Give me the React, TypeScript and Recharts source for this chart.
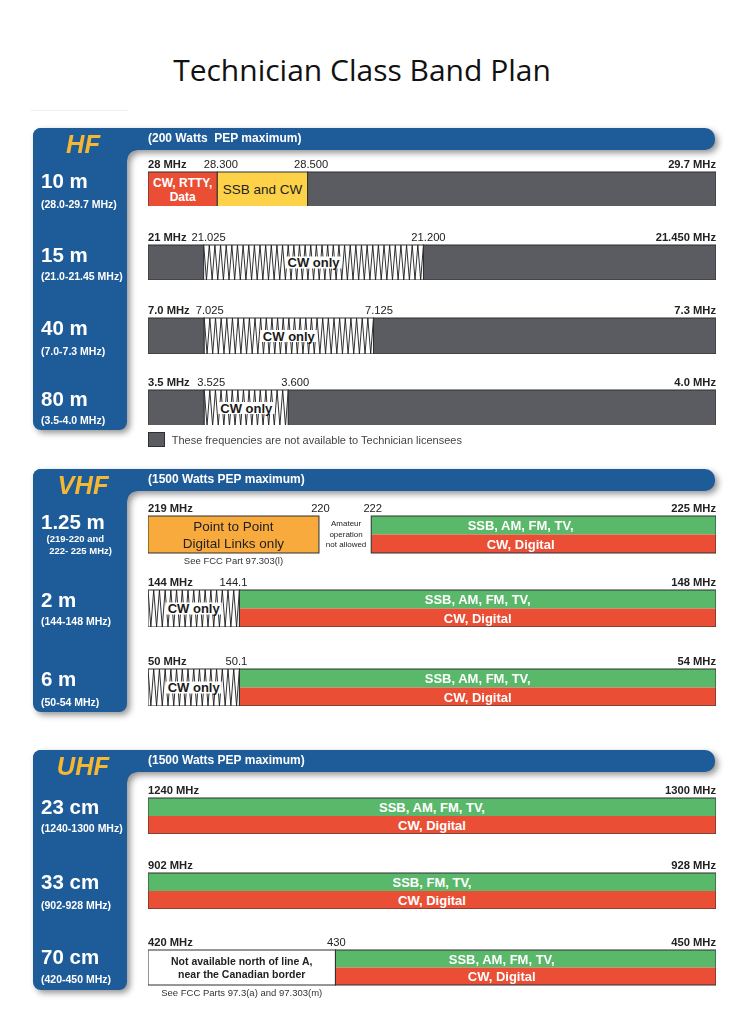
import React from 'react';
import { BarChart, Bar, XAxis, YAxis } from 'recharts';

// ---------------- data ----------------
const sectionNames = ['HF', 'VHF', 'UHF'];
const sectionPower = ['(200 Watts  PEP maximum)', '(1500 Watts PEP maximum)', '(1500 Watts PEP maximum)'];

const bandNames = ['10 m', '15 m', '40 m', '80 m', '1.25 m', '2 m', '6 m', '23 cm', '33 cm', '70 cm'];
const bandRanges = [
  ['(28.0-29.7 MHz)'],
  ['(21.0-21.45 MHz)'],
  ['(7.0-7.3 MHz)'],
  ['(3.5-4.0 MHz)'],
  ['(219-220 and', ' 222- 225 MHz)'],
  ['(144-148 MHz)'],
  ['(50-54 MHz)'],
  ['(1240-1300 MHz)'],
  ['(902-928 MHz)'],
  ['(420-450 MHz)'],
];

// segment spans are the share of each band bar (percent of bar length) as pictured
const b10Spans = [12.2, 15.9, 71.9];
const b10Kinds = ['red', 'yellow', 'grey'];
const b10Texts = [['CW, RTTY,', 'Data'], ['SSB and CW'], []];
const b10Ticks = ['28 MHz', '28.300', '28.500', '29.7 MHz'];

const b15Spans = [9.8, 38.7, 51.5];
const b15Kinds = ['grey', 'cw', 'grey'];
const b15Texts = [[], ['CW only'], []];
const b15Ticks = ['21 MHz', '21.025', '21.200', '21.450 MHz'];

const b40Spans = [9.9, 29.8, 60.3];
const b40Kinds = ['grey', 'cw', 'grey'];
const b40Texts = [[], ['CW only'], []];
const b40Ticks = ['7.0 MHz', '7.025', '7.125', '7.3 MHz'];

const b80Spans = [9.9, 14.8, 75.3];
const b80Kinds = ['grey', 'cw', 'grey'];
const b80Texts = [[], ['CW only'], []];
const b80Ticks = ['3.5 MHz', '3.525', '3.600', '4.0 MHz'];

const b125Spans = [30.1, 9.2, 60.7];
const b125Kinds = ['orange', 'gap', 'split'];
const b125Texts = [['Point to Point', 'Digital Links only'], ['Amateur', 'operation', 'not allowed'], ['SSB, AM, FM, TV,', 'CW, Digital']];
const b125Ticks = ['219 MHz', '220', '222', '225 MHz'];
const b125Notes = ['See FCC Part 97.303(l)', '', ''];

const b2Spans = [16.1, 83.9];
const b2Kinds = ['cw', 'split'];
const b2Texts = [['CW only'], ['SSB, AM, FM, TV,', 'CW, Digital']];
const b2Ticks = ['144 MHz', '144.1', '148 MHz'];

const b6Spans = [16.1, 83.9];
const b6Kinds = ['cw', 'split'];
const b6Texts = [['CW only'], ['SSB, AM, FM, TV,', 'CW, Digital']];
const b6Ticks = ['50 MHz', '50.1', '54 MHz'];

const b23Spans = [100];
const b23Kinds = ['split'];
const b23Texts = [['SSB, AM, FM, TV,', 'CW, Digital']];
const b23Ticks = ['1240 MHz', '1300 MHz'];

const b33Spans = [100];
const b33Kinds = ['split'];
const b33Texts = [['SSB, FM, TV,', 'CW, Digital']];
const b33Ticks = ['902 MHz', '928 MHz'];

const b70Spans = [33, 67];
const b70Kinds = ['white', 'split'];
const b70Texts = [['Not available north of line A,', 'near the Canadian border'], ['SSB, AM, FM, TV,', 'CW, Digital']];
const b70Ticks = ['420 MHz', '430', '450 MHz'];
const b70Notes = ['See FCC Parts 97.3(a) and 97.303(m)', ''];

const legendText = 'These frequencies are not available to Technician licensees';
const titleText = 'Technician Class Band Plan';

const bands = [
  { spans: b10Spans, kinds: b10Kinds, texts: b10Texts, ticks: b10Ticks, notes: null as string[] | null },
  { spans: b15Spans, kinds: b15Kinds, texts: b15Texts, ticks: b15Ticks, notes: null },
  { spans: b40Spans, kinds: b40Kinds, texts: b40Texts, ticks: b40Ticks, notes: null },
  { spans: b80Spans, kinds: b80Kinds, texts: b80Texts, ticks: b80Ticks, notes: null },
  { spans: b125Spans, kinds: b125Kinds, texts: b125Texts, ticks: b125Ticks, notes: b125Notes },
  { spans: b2Spans, kinds: b2Kinds, texts: b2Texts, ticks: b2Ticks, notes: null },
  { spans: b6Spans, kinds: b6Kinds, texts: b6Texts, ticks: b6Ticks, notes: null },
  { spans: b23Spans, kinds: b23Kinds, texts: b23Texts, ticks: b23Ticks, notes: null },
  { spans: b33Spans, kinds: b33Kinds, texts: b33Texts, ticks: b33Ticks, notes: null },
  { spans: b70Spans, kinds: b70Kinds, texts: b70Texts, ticks: b70Ticks, notes: b70Notes },
];

// ---------------- layout & style ----------------
const FONT = "'Liberation Sans', Arial, Helvetica, sans-serif";
const BLUE = '#1d5b99';
const GOLD = '#f6b731';
const GREY = '#5b5c61';
const RED = '#ea4f36';
const YELLOW = '#fdd249';
const ORANGE = '#f9aa3d';
const GREEN = '#5ab86b';
const OUTLINE = '#2e2f33';

const sectionTop = [127.5, 469, 750];
const sectionColBottom = [430, 711.7, 990];
const HEADER_H = 22;
const PANEL_L = 32.5;
const COL_R = 127;
const HEADER_R = 715;

const AXIS_H = 16;
const CHART_L = 147;
const CHART_W = 570;
const bandBarTop = [171.5, 245, 318, 389.5, 516, 590, 668.5, 797.5, 872.5, 949.5];
const bandBarH = [34.5, 35, 35.5, 35.5, 37, 37, 37, 36, 36, 35];
const bandNameY = [181, 255, 328, 399.7, 522, 600.5, 678.8, 807.5, 882.5, 957.5];
const bandSubY = [204, 276.7, 351.7, 420.7, 539, 621.7, 702.3, 828.3, 905, 979.3];
const splitShift = [0, 0, 0, 0, -23, 0, 0, 0, 0, -24];
const midTickShift = [3.5, 5, 5.5, 7, 1.5, -6, -3, 0, 0, 1];

// ---------------- helpers ----------------
function Txt(props: {
  x: number; cy: number; size: number; bold?: boolean; italic?: boolean; color?: string; children: React.ReactNode; font?: string;
}) {
  const { x, cy, size, bold, italic, color, children, font } = props;
  return (
    <div
      style={{
        position: 'absolute',
        left: x,
        top: cy - size * 0.6,
        height: size * 1.2,
        lineHeight: `${size * 1.2}px`,
        fontSize: size,
        fontWeight: bold ? 700 : 400,
        fontStyle: italic ? 'italic' : 'normal',
        color: color || '#222',
        fontFamily: font || FONT,
        whiteSpace: 'pre',
      }}
    >
      {children}
    </div>
  );
}

const makeTick = (labels: string[], shift: number) => (props: any) => {
  const { x, y, index } = props;
  const last = labels.length - 1;
  const edge = index === 0 || index === last;
  const anchor = index === 0 ? 'start' : index === last ? 'end' : 'middle';
  return (
    <text
      x={x}
      y={y}
      dx={edge ? 0 : shift}
      dy={-4.5}
      textAnchor={anchor}
      fontSize={11.2}
      fontWeight={edge ? 700 : 400}
      fill="#222"
      fontFamily={FONT}
    >
      {labels[index]}
    </text>
  );
};

function lineTexts(lines: string[], cx: number, cy: number, gap: number, size: number, weight: number, color: string) {
  const n = lines.length;
  return lines.map((t, i) => (
    <text
      key={i}
      x={cx}
      y={cy + (i - (n - 1) / 2) * gap}
      dy="0.35em"
      textAnchor="middle"
      fontSize={size}
      fontWeight={weight}
      fill={color}
      fontFamily={FONT}
    >
      {t}
    </text>
  ));
}

function renderSegment(p: any, kind: string, lines: string[], note: string, shift: number) {
  const x = p.x as number;
  const y = p.y as number;
  const w = p.width as number;
  const h = p.height as number;
  const cx = x + w / 2;
  const cy = y + h / 2;
  const noteEl = note ? (
    <text x={cx} y={y + h + 8} dy="0.35em" textAnchor="middle" fontSize={9.5} fill="#333" fontFamily={FONT}>
      {note}
    </text>
  ) : null;
  const outline = <rect x={x} y={y} width={w} height={h} fill="none" stroke={OUTLINE} strokeWidth={1} />;

  if (kind === 'grey') {
    return <g><rect x={x} y={y} width={w} height={h} fill={GREY} />{outline}</g>;
  }
  if (kind === 'red') {
    return (
      <g>
        <rect x={x} y={y} width={w} height={h} fill={RED} />
        {outline}
        {lineTexts(lines, cx, cy, 13.7, 12, 700, '#fff')}
      </g>
    );
  }
  if (kind === 'yellow') {
    return (
      <g>
        <rect x={x} y={y} width={w} height={h} fill={YELLOW} />
        {outline}
        {lineTexts(lines, cx, cy, 15, 13.5, 400, '#222')}
      </g>
    );
  }
  if (kind === 'orange') {
    return (
      <g>
        <rect x={x} y={y} width={w} height={h} fill={ORANGE} />
        {outline}
        {lineTexts(lines, cx, cy + 0.3, 17.5, 13.5, 400, '#222')}
        {noteEl}
      </g>
    );
  }
  if (kind === 'gap') {
    return <g>{lineTexts(lines, cx + 1, cy - 0.5, 10.5, 8, 400, '#222')}{noteEl}</g>;
  }
  if (kind === 'white') {
    return (
      <g>
        <rect x={x} y={y} width={w} height={h} fill="#fff" />
        {outline}
        {lineTexts(lines, cx, cy, 12.7, 10.5, 700, '#222')}
        {noteEl}
      </g>
    );
  }
  if (kind === 'cw') {
    const n = Math.max(1, Math.round(w / 5.7));
    const per = w / n;
    let d = `M${x},${y}`;
    for (let i = 0; i < n; i++) {
      d += ` L${x + per * (i + 0.5)},${y + h} L${x + per * (i + 1)},${y}`;
    }
    return (
      <g>
        <rect x={x} y={y} width={w} height={h} fill="#fff" />
        <path d={d} fill="none" stroke="#1a1a1a" strokeWidth={0.9} />
        <rect x={cx - 28} y={cy - 6} width={56} height={12} fill="#fff" />
        {outline}
        {lineTexts(lines, cx, cy, 14, 13, 700, '#1a1a1a')}
        {noteEl}
      </g>
    );
  }
  // split: green top, red bottom
  return (
    <g>
      <rect x={x} y={y} width={w} height={h / 2} fill={GREEN} />
      <rect x={x} y={y + h / 2} width={w} height={h / 2} fill={RED} />
      {outline}
      {lines[0] ? lineTexts([lines[0]], cx + shift, y + h / 4 + 0.5, 0, 13, 700, '#fff') : null}
      {lines[1] ? lineTexts([lines[1]], cx + shift, y + (3 * h) / 4 + 0.5, 0, 13, 700, '#fff') : null}
      {noteEl}
    </g>
  );
}

function BandChart({ idx }: { idx: number }) {
  const band = bands[idx];
  const { spans, kinds, texts, ticks, notes } = band;
  const bounds: number[] = [0];
  spans.forEach((s) => bounds.push(Math.round((bounds[bounds.length - 1] + s) * 1000) / 1000));
  const row: any = { row: bandNames[idx] };
  spans.forEach((s, i) => {
    row['s' + i] = s;
  });
  const hasNote = !!notes && notes.some((n) => !!n);
  const noteH = hasNote ? 14 : 0;
  const barH = bandBarH[idx];
  const H = AXIS_H + barH + noteH;
  return (
    <div style={{ position: 'absolute', left: CHART_L, top: bandBarTop[idx] - AXIS_H }}>
      <BarChart
        width={CHART_W}
        height={H}
        data={[row]}
        layout="vertical"
        margin={{ top: 0, right: 1, bottom: noteH, left: 1 }}
        barCategoryGap={0}
        barGap={0}
      >
        <XAxis
          type="number"
          orientation="top"
          domain={[0, 100]}
          ticks={bounds}
          interval={0}
          tick={makeTick(ticks, midTickShift[idx])}
          axisLine={false}
          tickLine={false}
          tickSize={0}
          tickMargin={0}
          height={AXIS_H}
          allowDataOverflow
        />
        <YAxis type="category" dataKey="row" hide />
        {spans.map((_, i) => (
          <Bar
            key={i}
            dataKey={'s' + i}
            stackId="band"
            isAnimationActive={false}
            shape={(p: any) => renderSegment(p, kinds[i], texts[i] || [], notes ? notes[i] : '', splitShift[idx])}
          />
        ))}
      </BarChart>
    </div>
  );
}

function SectionPanel({ s }: { s: number }) {
  const top = sectionTop[s];
  const bottom = sectionColBottom[s];
  return (
    <div style={{ position: 'absolute', left: 0, top: 0, filter: 'drop-shadow(3px 3px 3px rgba(0,0,0,0.42))' }}>
      <div
        style={{
          position: 'absolute',
          left: PANEL_L,
          top,
          width: HEADER_R - PANEL_L,
          height: HEADER_H,
          background: BLUE,
          borderRadius: '8px 10px 10px 0',
        }}
      />
      <div
        style={{
          position: 'absolute',
          left: PANEL_L,
          top,
          width: COL_R - PANEL_L,
          height: bottom - top,
          background: BLUE,
          borderRadius: '8px 0 8px 8px',
        }}
      />
      <div
        style={{
          position: 'absolute',
          left: COL_R,
          top: top + HEADER_H,
          width: 10,
          height: 10,
          background: `radial-gradient(circle at 100% 100%, rgba(0,0,0,0) 9.3px, ${BLUE} 10px)`,
        }}
      />
    </div>
  );
}

export default function App() {
  return (
    <div
      style={{
        position: 'absolute',
        left: 0,
        top: 0,
        width: 751,
        height: 1024,
        background: '#fff',
        overflow: 'hidden',
        fontFamily: FONT,
      }}
    >
      <div
        style={{
          position: 'absolute',
          left: 0,
          width: 724,
          top: 50,
          textAlign: 'center',
          fontFamily: "'Open Sans', 'Noto Sans', sans-serif",
          fontSize: 30,
          lineHeight: '40px',
          color: '#111',
        }}
      >
        {titleText}
      </div>
      <div style={{ position: 'absolute', left: 30, top: 110, width: 98, height: 1, background: '#f0f0f0' }} />

      {sectionNames.map((_, s) => (
        <SectionPanel key={s} s={s} />
      ))}

      {sectionNames.map((name, s) => (
        <React.Fragment key={'t' + s}>
          <div
            style={{
              position: 'absolute',
              left: 35,
              width: 96,
              top: sectionTop[s] + 16 - 15,
              height: 30,
              lineHeight: '30px',
              textAlign: 'center',
              fontSize: 25.5,
              fontWeight: 700,
              fontStyle: 'italic',
              color: GOLD,
              fontFamily: FONT,
            }}
          >
            {name}
          </div>
          <Txt x={148} cy={sectionTop[s] + 10.5} size={12} bold color="#fff">
            {sectionPower[s]}
          </Txt>
        </React.Fragment>
      ))}

      {bandNames.map((name, i) => (
        <React.Fragment key={'b' + i}>
          <Txt x={41} cy={bandNameY[i]} size={20.5} bold color="#fff">
            {name}
          </Txt>
          {bandRanges[i].length === 1 ? (
            <Txt x={41} cy={bandSubY[i]} size={10.5} bold color="#fff">
              {bandRanges[i][0]}
            </Txt>
          ) : (
            <>
              <Txt x={46.5} cy={bandSubY[i]} size={9.5} bold color="#fff">
                {bandRanges[i][0]}
              </Txt>
              <Txt x={46.5} cy={bandSubY[i] + 11.7} size={9.5} bold color="#fff">
                {bandRanges[i][1]}
              </Txt>
            </>
          )}
        </React.Fragment>
      ))}

      <div
        style={{
          position: 'absolute',
          left: 148.3,
          top: 431.7,
          width: 16.5,
          height: 15,
          background: GREY,
          border: `1px solid ${OUTLINE}`,
          boxSizing: 'border-box',
        }}
      />
      <Txt x={171.7} cy={441} size={11} color="#444">
        {legendText}
      </Txt>

      {bands.map((_, i) => (
        <BandChart key={i} idx={i} />
      ))}
    </div>
  );
}
